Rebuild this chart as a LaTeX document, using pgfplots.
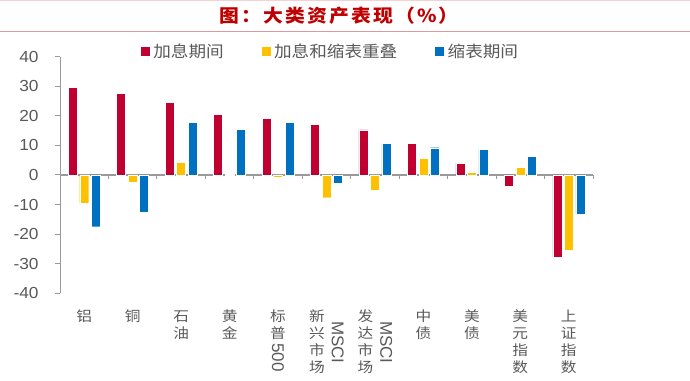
\documentclass[border=0pt]{standalone}
\usepackage{pgfplots}
\pgfplotsset{compat=1.18}
\usepackage{fontspec}
\setmainfont{Liberation Sans}
\newfontfamily\lat{Liberation Sans}
\newfontfamily\numfont[FakeStretch=1.08]{Liberation Sans}
\newfontfamily\cjk[FakeStretch=1.12]{Noto Sans CJK SC}
\newfontfamily\cjkw[FakeStretch=1.1]{Noto Sans CJK SC}
\newfontfamily\cjkt[FakeStretch=1.1,LetterSpace=12]{Noto Sans CJK SC}
\definecolor{cred}{HTML}{C00030}
\definecolor{cyel}{HTML}{FFC000}
\definecolor{cblu}{HTML}{0070C0}
\definecolor{txtgray}{HTML}{595959}
\definecolor{axgray}{HTML}{9A9A9A}
\definecolor{titred}{HTML}{C00000}
\definecolor{linered}{HTML}{DE9AA0}
\definecolor{linepink}{HTML}{F3D0D3}
\newcommand{\vs}[1]{\begin{tabular}[t]{@{}c@{}}#1\end{tabular}}
\newcommand{\rot}[1]{\rotatebox{-90}{\lat\fontsize{17bp}{17bp}\selectfont #1}}
\begin{document}
\begin{tikzpicture}
\path[use as bounding box] (0,0) rectangle (690bp,381bp);
\draw[linepink, line width=1.5bp] (0,380.5bp) -- (690bp,380.5bp);
\draw[linered, line width=1.3bp] (0,349.5bp) -- (690bp,349.5bp);
\node[text=titred, font=\cjkt\bfseries\fontsize{18bp}{20bp}\selectfont, inner sep=0pt] at (339bp,365bp) {图：大类资产表现（\%）};
\begin{axis}[
  at={(60bp,87.7bp)}, anchor=south west,
  scale only axis, width=533bp, height=236.7bp,
  xmin=0.5, xmax=11.5, ymin=-40, ymax=40,
  ybar=2.5bp, bar width=9bp,
  axis y line=left, axis x line=middle,
  x axis line style={-, draw=axgray, line width=1.2bp},
  y axis line style={-, draw=axgray, line width=1bp},
  tick align=outside,
  ytick={-40,-30,...,40},
  major tick length=5bp, minor tick length=4bp,
  xtick={1,...,11},
  minor xtick={1.5,2.5,...,11.5},
  major x tick style={draw=none},
  minor x tick style={draw=axgray, line width=1bp},
  major y tick style={draw=axgray, line width=1bp},
  /pgf/number format/assume math mode=true,
  yticklabel style={font=\numfont\fontsize{16bp}{18bp}\selectfont, text=txtgray, xshift=-13bp},
  xticklabel style={font=\cjk\fontsize{14bp}{17bp}\selectfont, text=txtgray, anchor=north, inner sep=0pt, yshift=-129bp},
  xticklabels={
    {\vs{铝}},
    {\vs{铜}},
    {\vs{石\\油}},
    {\vs{黄\\金}},
    {\vs{标\\普\\\raisebox{12bp}{\rot{500}}}},
    {\vs{新\\兴\\市\\场}\hspace{7bp}\vs{\rot{MSCI}}},
    {\vs{发\\达\\市\\场}\hspace{7bp}\vs{\rot{MSCI}}},
    {\vs{中\\债}},
    {\vs{美\\债}},
    {\vs{美\\元\\指\\数}},
    {\vs{上\\证\\指\\数}}
  },
  legend style={at={(axis description cs:0.5,1)}, anchor=center, yshift=5bp, xshift=4bp,
    draw=none, fill=none, inner sep=0pt,
    font=\cjkw\fontsize{16bp}{18bp}\selectfont, text=txtgray,
    /tikz/every odd column/.append style={column sep=2bp},
    /tikz/every even column/.append style={column sep=36bp}},
  legend columns=3,
  legend cell align=left,
]
\addplot[fill=cred, draw=white, line width=0.4bp, legend image code/.code={\fill[cred] (0bp,-4bp) rectangle (8bp,4bp);}]
  coordinates {(1,29.5) (2,27.6) (3,24.6) (4,20.4) (5,19.2) (6,17.1) (7,15.2) (8,10.7) (9,4.0) (10,-3.7) (11,-27.8)};
\addplot[fill=cyel, draw=white, line width=0.4bp, legend image code/.code={\fill[cyel] (0bp,-4bp) rectangle (8bp,4bp);}]
  coordinates {(1,-9.6) (2,-2.6) (3,4.3) (4,0.3) (5,-0.8) (6,-7.7) (7,-5.1) (8,5.6) (9,0.9) (10,2.6) (11,-25.6)};
\addplot[fill=cblu, draw=white, line width=0.4bp, legend image code/.code={\fill[cblu] (0bp,-4bp) rectangle (8bp,4bp);}]
  coordinates {(1,-17.5) (2,-12.6) (3,17.7) (4,15.4) (5,17.7) (6,-2.8) (7,10.7) (8,9.2) (9,8.7) (10,6.2) (11,-13.2)};
\legend{加息期间,加息和缩表重叠,缩表期间}
\end{axis}
\end{tikzpicture}
\end{document}
